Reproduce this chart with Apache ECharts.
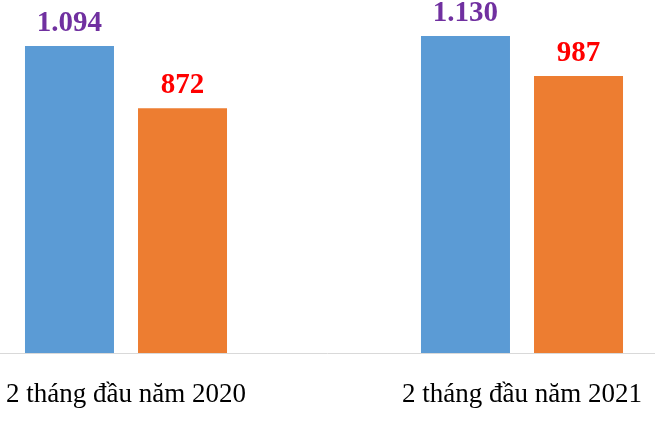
<!DOCTYPE html>
<html><head><meta charset="utf-8">
<script src="https://cdn.jsdelivr.net/npm/echarts@6/dist/echarts.min.js"></script>
<style>html,body{margin:0;padding:0;background:#fff}#c{width:655px;height:421px}</style>
</head><body><div id="c"></div>
<script>
const categories = ['2 tháng đầu năm 2020', '2 tháng đầu năm 2021'];
const seriesA = [1094, 1130];
const seriesB = [872, 987];
const fmt = v => v >= 1000 ? Math.floor(v/1000) + '.' + String(v%1000).padStart(3,'0') : String(v);
const chart = echarts.init(document.getElementById('c'));
chart.setOption({
  animation: false,
  grid: {left: -72, width: 792, top: 0, bottom: 68, containLabel: false, outerBoundsMode: 'none'},
  xAxis: {type: 'category', data: categories,
    axisLine: {lineStyle: {color: '#D9D9D9', width: 1}},
    axisTick: {show: false},
    axisLabel: {fontFamily: 'Liberation Serif', fontSize: 27, color: '#000', margin: 28}},
  yAxis: {type: 'value', min: 0, max: 1258, show: false, splitLine: {show: false}},
  series: [
    {type: 'bar', data: seriesA, barWidth: 89, barGap: '27%', itemStyle: {color: '#5B9BD5'},
     label: {show: true, position: 'top', distance: 8, formatter: p => fmt(p.value), fontFamily: 'Liberation Serif', fontWeight: 'bold', fontSize: 29, color: '#7030A0'}},
    {type: 'bar', data: seriesB, barWidth: 89, itemStyle: {color: '#ED7D31'},
     label: {show: true, position: 'top', distance: 8, formatter: p => fmt(p.value), fontFamily: 'Liberation Serif', fontWeight: 'bold', fontSize: 29, color: '#FF0000'}}
  ]
});
</script></body></html>
